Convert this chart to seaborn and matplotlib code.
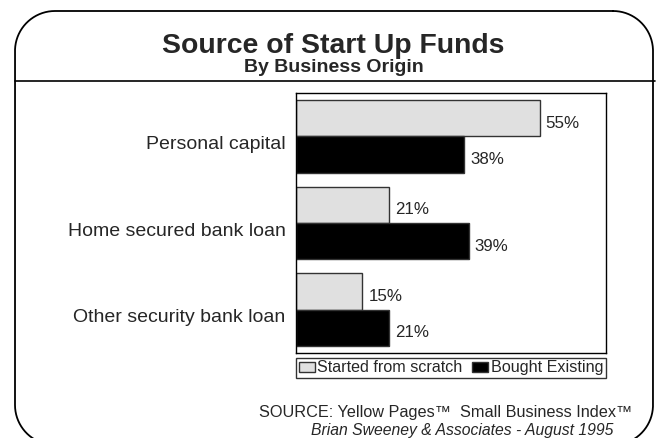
import matplotlib
matplotlib.use("Agg")
import matplotlib.pyplot as plt
from matplotlib.transforms import ScaledTranslation
import numpy as np
import seaborn as sns
import pandas as pd

categories = ["Personal capital", "Home secured bank loan", "Other security bank loan"]
series_names = ["Started from scratch", "Bought Existing"]
started_from_scratch = [55, 21, 15]
bought_existing = [38, 39, 21]
colors = ["#e0e0e0", "#000000"]

df = pd.DataFrame({
    "source": categories * 2,
    "origin": [series_names[0]] * 3 + [series_names[1]] * 3,
    "pct": started_from_scratch + bought_existing,
})

sns.set_style("white")
plt.rcParams["font.family"] = ["Liberation Sans", "DejaVu Sans"]

W, H = 658, 438
fig = plt.figure(figsize=(W / 100, H / 100), dpi=100)

# background layer in pixel units: rounded frame and header rule
bg = fig.add_axes([0, 0, 1, 1], zorder=-1)
bg.set_xlim(0, W)
bg.set_ylim(H, 0)
bg.axis("off")


def rounded_outline(x0, y0, x1, y1, r, n=40):
    corners = [((x1 - r, y0 + r), -90, 0), ((x1 - r, y1 - r), 0, 90),
               ((x0 + r, y1 - r), 90, 180), ((x0 + r, y0 + r), 180, 270)]
    xs, ys = [], []
    for (cx, cy), a0, a1 in corners:
        t = np.radians(np.linspace(a0, a1, n))
        xs.extend(cx + r * np.cos(t))
        ys.extend(cy + r * np.sin(t))
    xs.append(xs[0])
    ys.append(ys[0])
    return xs, ys


fx, fy = rounded_outline(15, 11, 653, 445, 40)
bg.plot(fx, fy, color="black", linewidth=1.3, clip_on=False)
bg.plot([15, 655], [81, 81], color="black", linewidth=1.2, clip_on=False)

bg.text(333.5, 53, "Source of Start Up Funds", ha="center", va="baseline",
        fontsize=20.4, fontweight="bold")
bg.text(333.5, 72, "By Business Origin", ha="center", va="baseline",
        fontsize=14, fontweight="bold")

ax = fig.add_axes([296 / W, 1 - 353 / H, 310 / W, 260 / H])
sns.barplot(data=df, y="source", x="pct", hue="origin", orient="h",
            palette=colors, edgecolor="#333333", linewidth=1.0,
            width=0.84, ax=ax, saturation=1)

ax.set_xlim(0, 70)
ax.set_ylim(2.5, -0.5)
ax.set_xlabel("")
ax.set_ylabel("")
ax.set_xticks([])
ax.tick_params(axis="y", length=0, pad=7.5, labelsize=14)
shift_down = ScaledTranslation(0, -6 / 100, fig.dpi_scale_trans)
for lab in ax.get_yticklabels():
    lab.set_transform(lab.get_transform() + shift_down)
for s in ax.spines.values():
    s.set_visible(True)
    s.set_color("black")
    s.set_linewidth(1.0)

# value labels beside each bar
for cont in ax.containers:
    for rect, v in zip(cont.patches, cont.datavalues):
        ax.annotate(f"{v:.0f}%", (rect.get_x() + rect.get_width(),
                                   rect.get_y() + rect.get_height() / 2),
                    xytext=(6, -5), textcoords="offset pixels",
                    ha="left", va="center", fontsize=12.2)

leg = ax.legend(loc="upper center", bbox_to_anchor=(0.5, -0.019), ncol=2,
                frameon=True, fancybox=False, edgecolor="black",
                fontsize=11.6, handlelength=1.0, handleheight=0.6,
                handletextpad=0.15, columnspacing=0.6, borderpad=0.15,
                borderaxespad=0)
leg.get_frame().set_linewidth(1.0)

bg.text(632, 413, "SOURCE: Yellow Pages\u2122  Small Business Index\u2122",
        ha="right", va="center", fontsize=11.7)
bg.text(613, 430, "Brian Sweeney & Associates - August 1995",
        ha="right", va="center", fontsize=11.3, style="italic")

fig.savefig("out.png", dpi=100)
